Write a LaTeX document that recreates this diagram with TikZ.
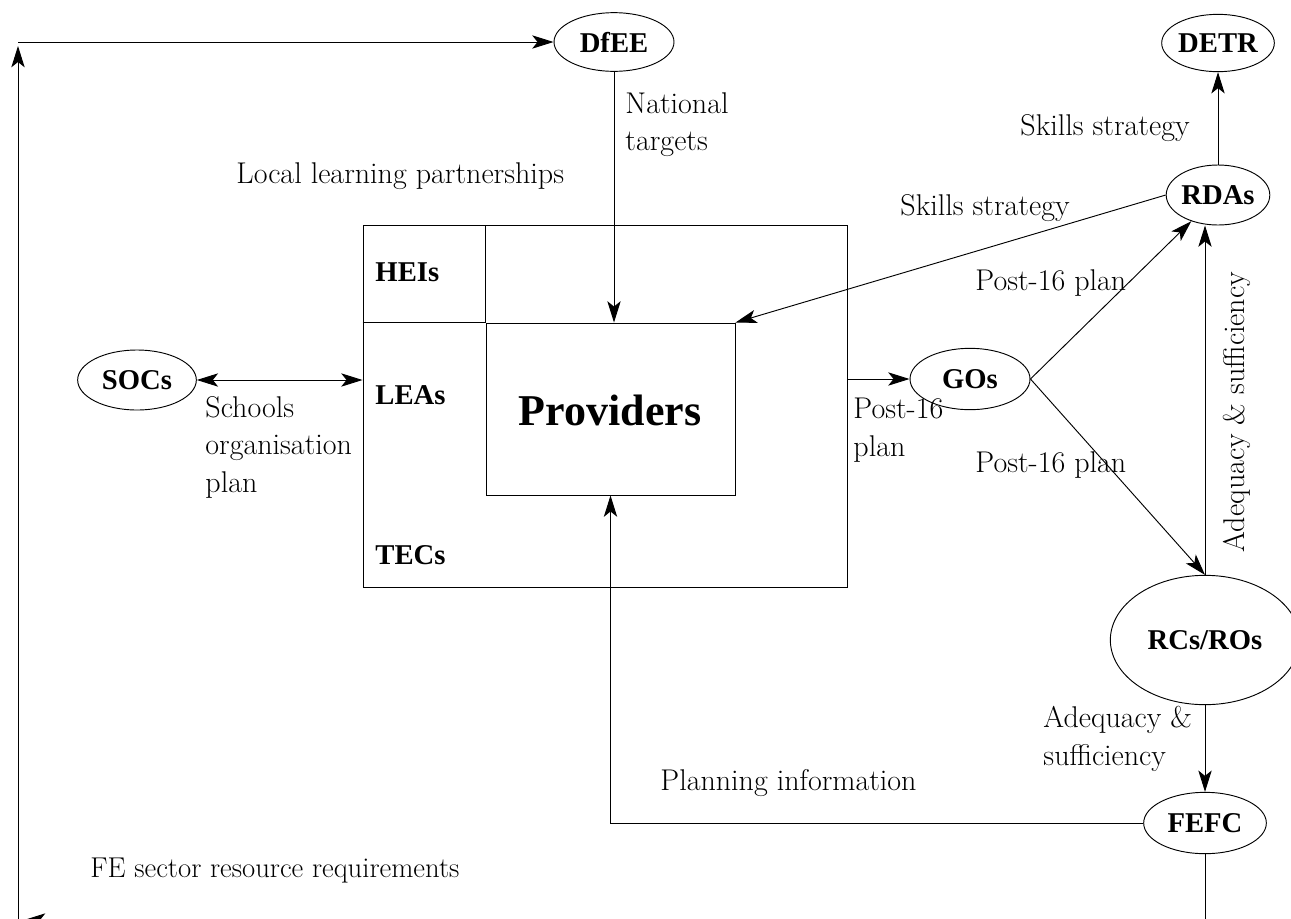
\documentclass[tikz,border=0pt]{standalone}
\usepackage{fontspec}
\newfontfamily\boldface{Liberation Serif}
\usetikzlibrary{shapes.geometric,arrows.meta}
\begin{document}
\begin{tikzpicture}[x=0.75pt,y=-0.75pt, line width=0.7pt,
 >={Stealth[length=16pt,width=10pt,inset=4pt]},
 ent/.style={draw, ellipse, inner sep=0pt, font=\boldface\fontsize{21.5}{24}\selectfont\bfseries},
 lbl/.style={inner sep=0pt, font=\fontsize{22.5}{28}\selectfont, align=left},
 blbl/.style={inner sep=0pt, font=\boldface\fontsize{21.5}{24}\selectfont\bfseries},
 box/.style={draw, rectangle, inner sep=0pt}]
\useasboundingbox (0,0) rectangle (1291,918);
\clip (0,0) rectangle (1291,918);

% entities
\node[ent, minimum width=90pt, minimum height=44pt] (dfee) at (614,42) {DfEE};
\node[ent, minimum width=71pt, minimum height=43pt] (detr) at (1218,43) {DETR};
\node[ent, minimum width=70.5pt, minimum height=45pt] (rdas) at (1218,195) {RDAs};
\node[ent, minimum width=89pt, minimum height=45pt] (socs) at (137,380) {SOCs};
\node[ent, minimum width=90pt, minimum height=46pt] (gos) at (970,379) {GOs};
\node[ent, minimum width=142pt, minimum height=97pt] (rcs) at (1205,640) {RCs/ROs};
\node[ent, minimum width=92pt, minimum height=46pt] (fefc) at (1205,823) {FEFC};

% boxes
\node[box, minimum width=363pt, minimum height=271.5pt] (llp) at (605,406) {};
\node[box, minimum width=186.75pt, minimum height=129pt] (prov) at (610.5,409) {};
\draw (llp.west |- prov.north) -- (prov.north west) -- (prov.west |- llp.north);

\node[blbl, anchor=west] (hei) at (375,272) {HEIs};
\node[blbl, anchor=west] (lea) at (375,395) {LEAs};
\node[blbl, anchor=west] (tec) at (375,555) {TECs};
\node[inner sep=0pt, font=\boldface\fontsize{33}{36}\selectfont\bfseries] (provtxt) at (610,410) {Providers};

% connectors
\draw[->] (dfee.south) -- (dfee.south |- prov.north);
\draw[->] (rdas.north) -- (detr.south);
\draw[->] (rdas.west) -- (prov.north east);
\draw[->] (gos.east) -- (rdas);
\draw[->] (gos.east) -- (rcs.north);
\draw[->] (rcs.north) -- (rcs.north |- rdas.south);
\draw[->] (rcs.south) -- (fefc.north);
\draw[<->] (socs.east) -- (socs.east -| llp.west);
\draw[->] (llp.east |- gos.west) -- (gos.west);
\draw[->] (fefc.west) -| (prov.south);

\coordinate (bl) at (24,920);
\coordinate (br) at (fefc.south |- bl);
\draw[->] (fefc.south) -- (br) -- (bl);
\coordinate (lb) at (18,930);
\coordinate (ltip) at (18,46);
\coordinate (lt) at (18,42);
\draw[->] (lb) -- (ltip);
\draw[->] (lt) -- (dfee.west);

% labels
\node[lbl, anchor=north west] (l1) at (625,92) {National\\targets};
\node[lbl, anchor=west] (l2) at (236,176) {Local learning partnerships};
\node[lbl, anchor=west] (l3) at (1020,128) {Skills strategy};
\node[lbl, anchor=west] (l4) at (900,208) {Skills strategy};
\node[lbl, anchor=west] (l5) at (975,283) {Post-16 plan};
\node[lbl, anchor=west] (l6) at (975,465) {Post-16 plan};
\node[lbl, anchor=north west] (l7) at (853,398) {Post-16\\plan};
\node[lbl, anchor=north west] (l8) at (205,396) {Schools\\organisation\\plan};
\node[lbl, anchor=north west] (l9) at (1043,706) {Adequacy \&\\sufficiency};
\node[lbl, anchor=west] (l10) at (660,783) {Planning information};
\node[lbl, anchor=west, font=\fontsize{21.5}{28}\selectfont] (l11) at (90,871) {FE sector resource requirements};
\node[lbl, rotate=90] (l12) at (1237,412) {Adequacy \& sufficiency};
\end{tikzpicture}
\end{document}
